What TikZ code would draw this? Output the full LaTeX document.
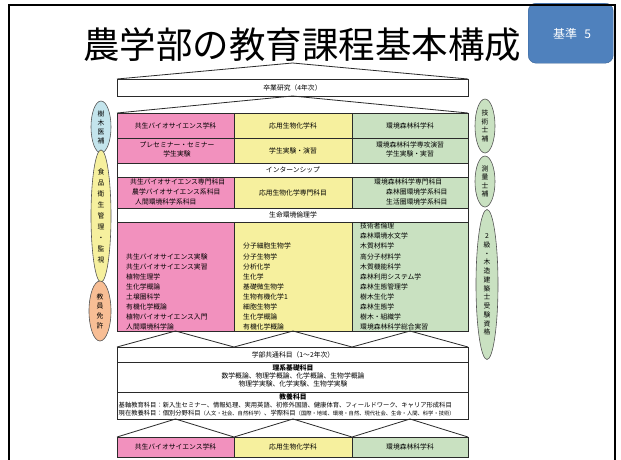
\documentclass[tikz,border=0pt]{standalone}
\usepackage{fontspec}
\setmainfont{Noto Sans CJK JP}
\usetikzlibrary{shapes.geometric}
\definecolor{cpink}{HTML}{F291BE}
\definecolor{cyel}{HTML}{F6F09E}
\definecolor{cgrn}{HTML}{C9E1C1}
\definecolor{cblue}{HTML}{C3E4EC}
\definecolor{corange}{HTML}{F8BE95}
\definecolor{badgeblue}{HTML}{4F81BD}
\definecolor{badgeedge}{HTML}{3A6496}
\definecolor{ln}{HTML}{2A2A2A}
\newcommand\cellxy[6]{\node[cell,fill=#6,minimum width={(#4-#2)*1pt},minimum height={(#5-#3)*1pt}] (#1) at (#2,#3) {};}
\begin{document}
\begin{tikzpicture}[x=1pt,y=-1pt,
  cell/.style={draw=ln,line width=0.8pt,rectangle,inner sep=0pt,outer sep=0pt,anchor=north west},
  txt/.style={inner sep=0pt,font=\fontsize{6.8}{8.5}\selectfont,align=center},
  ltxt/.style={inner sep=0pt,font=\fontsize{6.8}{8.5}\selectfont,anchor=west},
  conn/.style={draw=ln,line width=0.8pt,line join=miter},
  oval/.style={ellipse,draw=ln!80,line width=0.6pt,inner sep=0pt,align=center,font=\fontsize{6.8}{9}\selectfont}]
\useasboundingbox (0,0) rectangle (621,459);
\fill[white] (0,0) rectangle (621,459);
% badge and frame
\node[draw=badgeedge,fill=badgeblue,rounded corners=8pt,minimum width=85pt,minimum height=60pt,anchor=north west,inner sep=0pt] (badge) at (528,3) {};
\node[text=white,font=\fontsize{12}{14}\selectfont] (badgetxt) at (572,34) {基準\hspace{0.6em}5};
\draw[line width=2pt,black] (9,470) -- (9,5) -- (615,5) -- (615,470);
% title
\node[inner sep=0pt,font=\fontsize{36.5}{40}\selectfont] (title) at (302,45) {農学部の教育課程基本構成};
% graduation research
\cellxy{grad}{117}{79}{468}{96}{white}
\node[txt] (gradt) at (grad.center) {卒業研究（4年次）};
\coordinate (r1a) at (117,79); \coordinate (r1b) at (468,79); \coordinate (r1t) at (292.5,63);
\draw[conn] (r1a) -- (r1t) -- (r1b);
\coordinate (r2a) at (117,113); \coordinate (r2b) at (468,113);
\draw[conn] (r2a) -- (grad.south) -- (r2b);
% main table
\cellxy{p1}{117}{113}{234}{138}{cpink}
\cellxy{y1}{234}{113}{352}{138}{cyel}
\cellxy{g1}{352}{113}{468}{138}{cgrn}
\cellxy{p2}{117}{138}{234}{163}{cpink}
\cellxy{y2}{234}{138}{352}{163}{cyel}
\cellxy{g2}{352}{138}{468}{163}{cgrn}
\cellxy{w3}{117}{163}{468}{177}{white}
\cellxy{p4}{117}{177}{234}{208}{cpink}
\cellxy{y4}{234}{177}{352}{208}{cyel}
\cellxy{g4}{352}{177}{468}{208}{cgrn}
\cellxy{w5}{117}{208}{468}{222}{white}
\cellxy{p6}{117}{222}{234}{331}{cpink}
\cellxy{y6}{234}{222}{352}{331}{cyel}
\cellxy{g6}{352}{222}{468}{331}{cgrn}
\node[txt] (p1t) at (p1.center) {共生バイオサイエンス学科};
\node[txt] (y1t) at (y1.center) {応用生物化学科};
\node[txt] (g1t) at (g1.center) {環境森林科学科};
\node[txt] (p2t) at (177,149.5) {プレセミナー・セミナー\\学生実験};
\node[txt] (y2t) at (y2.center) {学生実験・演習};
\node[txt] (g2t) at (410,149.5) {環境森林科学専攻演習\\学生実験・実習};
\node[txt] (w3t) at (293,170) {インターンシップ};
\node[ltxt] (p4a) at (130,182) {共生バイオサイエンス専門科目};
\node[ltxt] (p4b) at (132,192) {農学バイオサイエンス系科目};
\node[ltxt] (p4c) at (135,202) {人間環境科学系科目};
\node[txt] (y4t) at (y4.center) {応用生物化学専門科目};
\node[ltxt] (g4a) at (374,182) {環境森林科学専門科目};
\node[ltxt] (g4b) at (386,192) {森林圏環境学系科目};
\node[ltxt] (g4c) at (386,202) {生活圏環境学系科目};
\node[txt] (w5t) at (293,215) {生命環境倫理学};
% course lists
\foreach \t [count=\i] in {共生バイオサイエンス実験,共生バイオサイエンス実習,植物生理学,生化学概論,土壌圏科学,有機化学概論,植物バイオサイエンス入門,人間環境科学論}
  \node[ltxt] (pc\i) at (126,{256.5+(\i-1)*10.1}) {\t};
\foreach \t [count=\i] in {分子細胞生物学,分子生物学,分析化学,生化学,基礎微生物学,生物有機化学1,細胞生物学,生化学概論,有機化学概論}
  \node[ltxt] (yc\i) at (243,{246.4+(\i-1)*10.1}) {\t};
\foreach \t [count=\i] in {技術者倫理,森林環境水文学,木質材料学,高分子材料学,木質機能科学,森林利用システム学,森林生態管理学,樹木生化学,森林生態学,樹木・組織学,環境森林科学総合実習}
  \node[ltxt] (gc\i) at (360,{226.2+(\i-1)*10.1}) {\t};
% zigzag to common box
\coordinate (c0) at (117,347); \coordinate (c1) at (234,347); \coordinate (c2) at (352,347); \coordinate (c3) at (468,347);
\draw[conn] (c0) -- (p6.south) -- (c1) -- (y6.south) -- (c2) -- (g6.south) -- (c3);
% common box
\cellxy{k1}{117}{347}{468}{362}{white}
\cellxy{k2}{117}{362}{468}{392}{white}
\cellxy{k3}{117}{392}{468}{419}{white}
\node[txt] (k1t) at (293,354.5) {学部共通科目（1～2年次）};
\node[txt,font=\fontsize{6.8}{8.5}\selectfont\bfseries] (k2a) at (293,367.5) {理系基礎科目};
\node[txt] (k2b) at (293,375.5) {数学概論、物理学概論、化学概論、生物学概論};
\node[txt] (k2c) at (293,384) {物理学実験、化学実験、生物学実験};
\node[txt,font=\fontsize{6.8}{8.5}\selectfont\bfseries] (k3a) at (293,396.5) {教養科目};
\node[ltxt,font=\fontsize{6.3}{8}\selectfont] (k3b) at (118.5,405) {基軸教育科目：新入生セミナー、情報処理、実用英語、初修外国語、健康体育、フィールドワーク、キャリア形成科目};
\node[ltxt,font=\fontsize{6.3}{8}\selectfont] (k3c) at (118.5,413.5) {現在教養科目：個別分野科目{\fontsize{5.3}{7}\selectfont（人文・社会、自然科学）}、学際科目{\fontsize{5.3}{7}\selectfont（国際・地域、環境・自然、現代社会、生命・人間、科学・技術）}};
% zigzag to departments
\cellxy{d1}{117}{437}{234}{457}{cpink}
\cellxy{d2}{234}{437}{352}{457}{cyel}
\cellxy{d3}{352}{437}{468}{457}{cgrn}
\coordinate (b1) at (175.5,419); \coordinate (b2) at (293,419); \coordinate (b3) at (410,419);
\draw[conn] (d1.north west) -- (b1) -- (d1.north east) -- (b2) -- (d2.north east) -- (b3) -- (d3.north east);
\node[txt] (d1t) at (d1.center) {共生バイオサイエンス学科};
\node[txt] (d2t) at (d2.center) {応用生物化学科};
\node[txt] (d3t) at (d3.center) {環境森林科学科};
% left ovals
\node[oval,fill=cblue,minimum width=20pt,minimum height=52pt] (e1) at (101,127) {樹\\木\\医\\補};
\node[oval,fill=cyel,minimum width=20pt,minimum height=118pt,font=\fontsize{6.8}{10.9}\selectfont] (e2) at (101,216) {食\\品\\衛\\生\\管\\理\\・\\監\\視};
\node[oval,fill=corange,minimum width=22pt,minimum height=60pt,font=\fontsize{6.8}{9.7}\selectfont] (e3) at (100,311) {教\\員\\免\\許};
% right ovals
\node[oval,fill=cgrn,minimum width=20pt,minimum height=54pt,font=\fontsize{6.8}{8.4}\selectfont] (f1) at (485,126) {技\\術\\士\\補};
\node[oval,fill=cgrn,minimum width=20pt,minimum height=51pt,font=\fontsize{6.8}{8.4}\selectfont] (f2) at (485,181.5) {測\\量\\士\\補};
\node[oval,fill=cgrn,minimum width=22pt,minimum height=150pt,font=\fontsize{6.8}{8.75}\selectfont] (f3) at (487,284.5) {2\\級\\・\\木\\造\\建\\築\\士\\受\\験\\資\\格};
\end{tikzpicture}
\end{document}
